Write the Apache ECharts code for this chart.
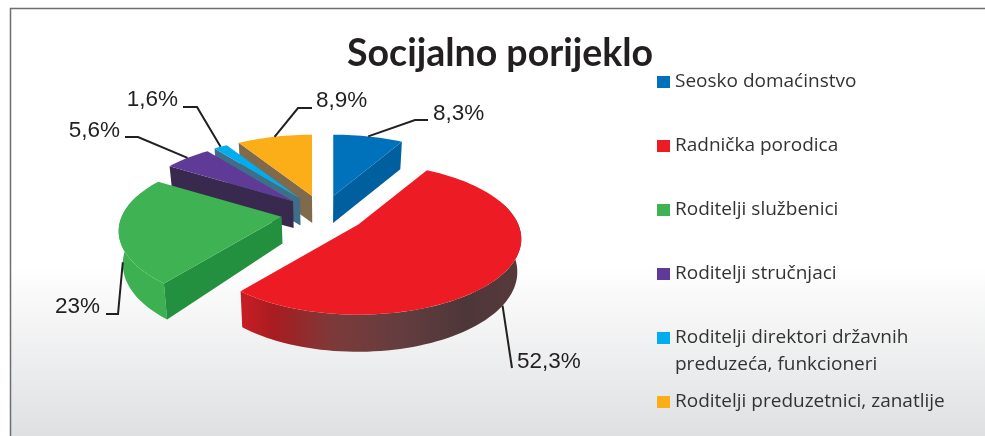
<!DOCTYPE html>
<html>
<head>
<meta charset="utf-8">
<style>
  html, body { margin: 0; padding: 0; background: #fff; }
  #chart { width: 985px; height: 436px; }
</style>
</head>
<body>
<div id="chart"></div>
<script src="https://cdn.jsdelivr.net/npm/echarts@6/dist/echarts.min.js"></script>
<script>
var categories = [
  'Seosko domaćinstvo',
  'Radnička porodica',
  'Roditelji službenici',
  'Roditelji stručnjaci',
  'Roditelji direktori državnih',
  'Roditelji preduzetnici, zanatlije'
];
var values = [8.3, 52.3, 23, 5.6, 1.6, 8.9];

var topColors = ['#0072bc', '#ed1c24', '#3fb354', '#5f3a96', '#00aeef', '#fbae17'];
var wallColors = ['#00609f', '#a81c20', '#23903f', '#39294f', '#3e6e88', '#7f6a4c'];
var paintOrder = [5, 4, 3, 0, 2, 1];

// elbow of the leader line and text position for each label, in page pixels
var labelSpots = [
  { elbow: [415, 120], end: [428, 120], text: [433, 114], align: 'left' },
  { elbow: null, end: [512, 368], text: [517, 362], align: 'left' },
  { elbow: [118, 314], end: [106, 314], text: [100, 307], align: 'right' },
  { elbow: [138, 137], end: [125, 137], text: [120, 131], align: 'right' },
  { elbow: [197, 107], end: [183, 107], text: [178, 100], align: 'right' },
  { elbow: [298, 108], end: [312, 108], text: [316, 101], align: 'left' }
];

// perspective pie: circle of radius 1 seen from above, v grows towards the viewer
var CX = 323, CY = 213.5, RX = 160, RY = 73, K = 0.19;
var EXPLODE = 0.26, DEPTH = 32;

function project(u, v) {
  var w = 1 - K * v;
  return [RX * u / w, RY * v / w];
}

function rimOffset(deg) {
  var a = deg * Math.PI / 180;
  return project(Math.sin(a), -Math.cos(a));
}

function lower(p, deg) {
  var v = -Math.cos(deg * Math.PI / 180);
  return [CX + (p[0] - CX) * 0.98, p[1] + DEPTH * (1 + 0.16 * v)];
}

var total = values.reduce(function (s, v) { return s + v; }, 0);
var slices = [];
var acc = 0;
values.forEach(function (v) {
  var start = acc / total * 360;
  acc += v;
  slices.push({ start: start, end: acc / total * 360 });
});

function buildSlice(i) {
  var s = slices[i];
  var mid = (s.start + s.end) / 2;
  var m = mid * Math.PI / 180;
  var off = project(EXPLODE * Math.sin(m), -EXPLODE * Math.cos(m));
  var apex = [CX + off[0], CY + off[1]];

  function rim(deg) {
    var o = rimOffset(deg);
    return [apex[0] + o[0], apex[1] + o[1]];
  }
  function arc(a0, a1) {
    var pts = [];
    var n = Math.max(2, Math.ceil((a1 - a0) / 2));
    for (var k = 0; k <= n; k++) pts.push(rim(a0 + (a1 - a0) * k / n));
    return pts;
  }
  function radialWall(deg) {
    var r = rim(deg);
    return {
      type: 'polygon',
      shape: { points: [apex, r, lower(r, deg), lower(apex, 0)] },
      style: { fill: wallColors[i] }
    };
  }

  var children = [];

  // outer wall, only where the rim faces the viewer
  var a0 = Math.max(s.start, 70), a1 = Math.min(s.end, 290);
  if (a1 > a0) {
    var upper = arc(a0, a1);
    var low = upper.map(function (p, k) {
      return lower(p, a0 + (a1 - a0) * k / (upper.length - 1));
    }).reverse();
    var fill = i === 1
      ? new echarts.graphic.LinearGradient(246, 0, 521, 0, [
          { offset: 0, color: '#c41e24' },
          { offset: 0.1, color: '#a81c20' },
          { offset: 0.32, color: '#7c3a3a' },
          { offset: 0.55, color: '#653d3f' },
          { offset: 0.8, color: '#4e3739' },
          { offset: 1, color: '#57393b' }
        ], true)
      : '#3db152';
    children.push({ type: 'polygon', shape: { points: upper.concat(low) }, style: { fill: fill } });
  }

  // cut faces
  if (Math.sin(s.start * Math.PI / 180) < -0.001) children.push(radialWall(s.start));
  if (Math.sin(s.end * Math.PI / 180) > 0.001) children.push(radialWall(s.end));

  // top face
  children.push({
    type: 'polygon',
    shape: { points: [apex].concat(arc(s.start, s.end)) },
    style: { fill: topColors[i] }
  });

  // leader line and value label
  var spot = labelSpots[i];
  var anchor = rim(mid);
  if (-Math.cos(m) > 0) anchor = lower(anchor, mid);
  var line = spot.elbow ? [anchor, spot.elbow, spot.end] : [anchor, spot.end];
  children.push({
    type: 'polyline',
    shape: { points: line },
    style: { stroke: '#231f20', lineWidth: 2, fill: null }
  });
  children.push({
    type: 'text',
    style: {
      text: String(values[i]).replace('.', ',') + '%',
      x: spot.text[0],
      y: spot.text[1],
      align: spot.align,
      verticalAlign: 'middle',
      fontFamily: '"Liberation Sans", sans-serif',
      fontSize: 22.5,
      fill: '#231f20'
    }
  });
  return { type: 'group', children: children };
}

var myChart = echarts.init(document.getElementById('chart'));

var series = categories.map(function (name, i) {
  return {
    name: name,
    type: 'custom',
    coordinateSystem: 'none',
    z: 2 + paintOrder.indexOf(i),
    silent: true,
    itemStyle: { color: topColors[i] },
    data: [[values[i]]],
    renderItem: function () { return buildSlice(i); }
  };
});

var option = {
  animation: false,
  color: topColors,
  title: {
    text: 'Socijalno porijeklo',
    left: 342,
    top: 30,
    textStyle: {
      fontFamily: 'Lato, sans-serif',
      fontSize: 37.5,
      fontWeight: 'bold',
      color: '#231f20'
    }
  },
  legend: {
    orient: 'vertical',
    left: 657,
    top: 72,
    padding: 0,
    itemWidth: 13,
    itemHeight: 12,
    itemGap: 44,
    icon: 'rect',
    selectedMode: false,
    data: categories,
    textStyle: {
      fontFamily: '"Open Sans", sans-serif',
      fontSize: 19,
      lineHeight: 20,
      color: '#333'
    }
  },
  graphic: [
    {
      type: 'rect',
      z: 0,
      silent: true,
      shape: { x: 11, y: 9, width: 974, height: 427 },
      style: {
        fill: new echarts.graphic.LinearGradient(0, 9, 0, 436, [
          { offset: 0, color: '#ffffff' },
          { offset: 0.6, color: '#ffffff' },
          { offset: 1, color: '#dfe0e2' }
        ], true)
      }
    },
    {
      type: 'polyline',
      z: 1,
      silent: true,
      shape: { points: [[10.5, 436], [10.5, 8.5], [985, 8.5]] },
      style: { stroke: '#6d6e71', lineWidth: 1.5, fill: null }
    },
    {
      type: 'text',
      z: 5,
      silent: true,
      style: {
        text: 'preduzeća, funkcioneri',
        x: 675,
        y: 365,
        verticalAlign: 'middle',
        fontFamily: '"Open Sans", sans-serif',
        fontSize: 19,
        fill: '#333'
      }
    }
  ],
  series: series
};

myChart.setOption(option);
</script>
</body>
</html>
